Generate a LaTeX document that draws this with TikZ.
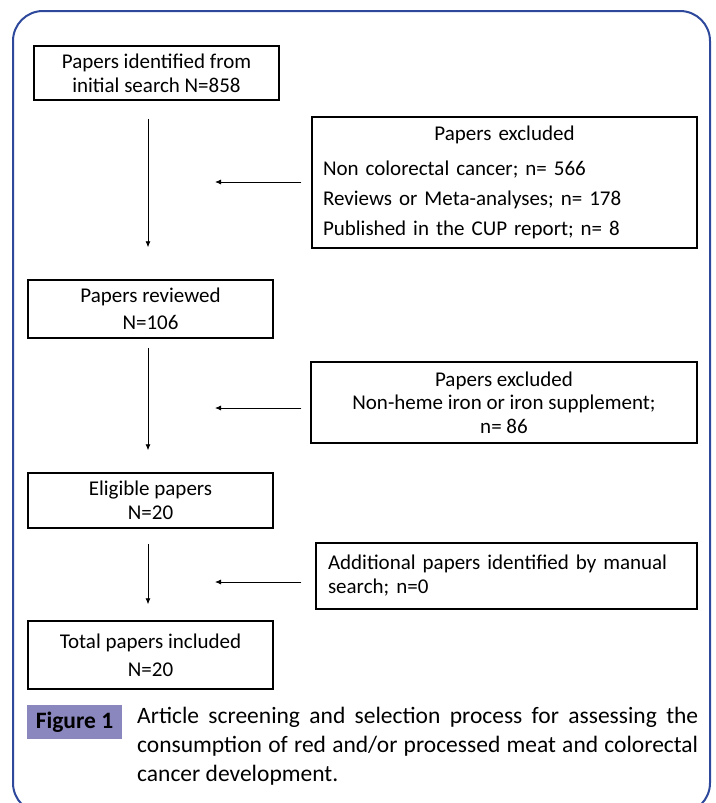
\documentclass[tikz,border=0pt]{standalone}
\usepackage{fontspec}
\setmainfont{Carlito}
\usetikzlibrary{arrows.meta}
\definecolor{frameblue}{RGB}{46,73,156}
\definecolor{labelpurple}{RGB}{138,134,190}

\begin{document}
\begin{tikzpicture}[x=1pt,y=-1pt,
    box/.style={draw,line width=1.5pt,inner sep=0pt,align=center,font=\fontsize{21}{24}\selectfont},
    varrow/.style={-{Latex[length=6pt,width=5pt]},line width=0.8pt},
    harrow/.style={-{Latex[length=6pt,width=5pt]},line width=0.8pt}]
            \useasboundingbox (0,0) rectangle (715,803);
            \draw [frameblue,line width=2pt,rounded corners=30pt] (13,11) rectangle (710,813);

            \node [box,minimum width=245pt,minimum height=54pt] (found) at (156.5,73) {Papers identified from\\initial search N=858};
            \node [box,minimum width=245pt,minimum height=58pt] (reviewed) at (150.5,309) {Papers reviewed\\[3pt]N=106};
            \node [box,minimum width=245pt,minimum height=55pt] (eligible) at (150.5,500.5) {Eligible papers\\N=20};
            \node [box,minimum width=245pt,minimum height=68pt] (included) at (150.5,655) {Total papers included\\[4pt]N=20};

            \node [box,minimum width=385pt,minimum height=131pt,text width=363pt,align=left,
                font=\fontsize{21}{30}\selectfont] (excluded) at (504.5,182.5)
                {{\centering Papers excluded\par}\vspace{5pt}\raggedright
                 Non colorectal cancer; n= 566\\Reviews or Meta-analyses; n= 178\\Published in the CUP report; n= 8};
            \node [box,minimum width=386pt,minimum height=81pt,font=\fontsize{21}{23.5}\selectfont] (nonheme) at (504,402.5)
                {Papers excluded\\Non-heme iron or iron supplement;\\n= 86};
            \node [box,minimum width=381pt,minimum height=66pt,text width=357pt,align=left] (manual) at (506.5,576)
                {Additional papers identified by manual\\search; n=0};

            \draw [varrow,shorten <=18pt,shorten >=32pt] ([xshift=-8.5pt]found.south) -- ([xshift=-2.5pt]reviewed.north);
            \draw [varrow,shorten <=9pt,shorten >=22pt] ([xshift=-2.5pt]reviewed.south) -- ([xshift=-2.5pt]eligible.north);
            \draw [varrow,shorten <=15pt,shorten >=16pt] ([xshift=-2.5pt]eligible.south) -- ([xshift=-2.5pt]included.north);

            \coordinate (tipa) at (215,182);
            \coordinate (tipb) at (215,408);
            \coordinate (tipc) at (215,582);
            \draw [harrow,shorten <=10pt] (tipa -| excluded.west) -- (tipa);
            \draw [harrow,shorten <=9pt] (tipb -| nonheme.west) -- (tipb);
            \draw [harrow,shorten <=14pt] (tipc -| manual.west) -- (tipc);

            \node [fill=labelpurple,minimum width=95pt,minimum height=34pt,inner sep=0pt,
                font=\bfseries\fontsize{23.5}{26}\selectfont] (figlabel) at (74.5,722) {Figure 1};
            \node [anchor=north west,inner sep=0pt,text width=561pt,align=justify,
                font=\fontsize{23.5}{28.8}\selectfont] (caption) at (137,707)
                {Article screening and selection process for assessing the consumption of red and/or processed meat and colorectal cancer development.};
        \end{tikzpicture}
\end{document}
